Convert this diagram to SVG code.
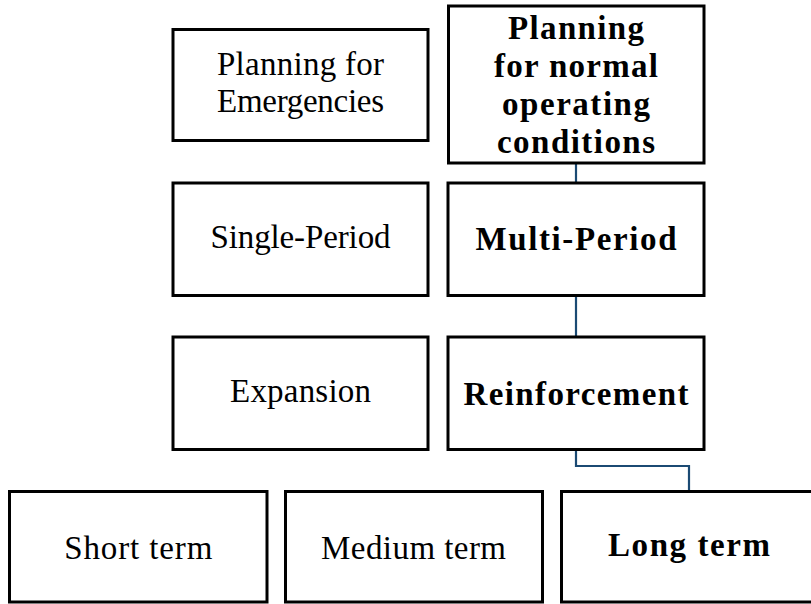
<svg xmlns="http://www.w3.org/2000/svg" width="811" height="604" viewBox="0 0 811 604">
  <style>
    .box { fill: #ffffff; stroke: #000000; stroke-width: 3; }
    .lbl { font-family: "Liberation Serif", "Times New Roman", serif; font-size: 33px; fill: #000000; text-anchor: middle; }
    .bold { font-weight: bold; }
    .link { fill: none; stroke: #1b4a73; stroke-width: 2.2; }
  </style>
  <rect x="0" y="0" width="811" height="604" fill="#ffffff"/>

  <!-- connectors along the selected path -->
  <g id="connectors">
    <path class="link" d="M576 164 V182"/>
    <path class="link" d="M576 297 V336"/>
    <path class="link" d="M576 451 V466 H689 V490"/>
  </g>

  <!-- row 1 -->
  <g id="node-emergencies">
    <rect class="box" x="173" y="29.5" width="255" height="111"/>
    <text class="lbl" x="300.5" y="75" textLength="167" lengthAdjust="spacing">Planning for</text>
    <text class="lbl" x="300.5" y="111.5" textLength="167" lengthAdjust="spacing">Emergencies</text>
  </g>
  <g id="node-normal">
    <rect class="box" x="448.5" y="6" width="255.5" height="157"/>
    <text class="lbl bold" x="576" y="39" textLength="136" lengthAdjust="spacing">Planning</text>
    <text class="lbl bold" x="576" y="77" textLength="164" lengthAdjust="spacing">for normal</text>
    <text class="lbl bold" x="576" y="115" textLength="148" lengthAdjust="spacing">operating</text>
    <text class="lbl bold" x="576" y="153" textLength="158" lengthAdjust="spacing">conditions</text>
  </g>

  <!-- row 2 -->
  <g id="node-single-period">
    <rect class="box" x="173" y="183" width="255" height="112.5"/>
    <text class="lbl" x="300.5" y="247.5" textLength="180" lengthAdjust="spacing">Single-Period</text>
  </g>
  <g id="node-multi-period">
    <rect class="box" x="448" y="183" width="256" height="112.5"/>
    <text class="lbl bold" x="576" y="250" textLength="201" lengthAdjust="spacing">Multi-Period</text>
  </g>

  <!-- row 3 -->
  <g id="node-expansion">
    <rect class="box" x="173" y="337" width="255" height="112.5"/>
    <text class="lbl" x="300.5" y="402" textLength="141" lengthAdjust="spacing">Expansion</text>
  </g>
  <g id="node-reinforcement">
    <rect class="box" x="448" y="337" width="256" height="112.5"/>
    <text class="lbl bold" x="576" y="405" textLength="225" lengthAdjust="spacing">Reinforcement</text>
  </g>

  <!-- row 4: planning horizon -->
  <g id="node-short-term">
    <rect class="box" x="9.5" y="491.5" width="257.5" height="110.5"/>
    <text class="lbl" x="138.3" y="559" textLength="148" lengthAdjust="spacing">Short term</text>
  </g>
  <g id="node-medium-term">
    <rect class="box" x="285.5" y="491.5" width="257" height="110.5"/>
    <text class="lbl" x="413.5" y="559" textLength="185" lengthAdjust="spacing">Medium term</text>
  </g>
  <g id="node-long-term">
    <rect class="box" x="561.5" y="491.5" width="255" height="110.5"/>
    <text class="lbl bold" x="689" y="556" textLength="162" lengthAdjust="spacing">Long term</text>
  </g>
</svg>
